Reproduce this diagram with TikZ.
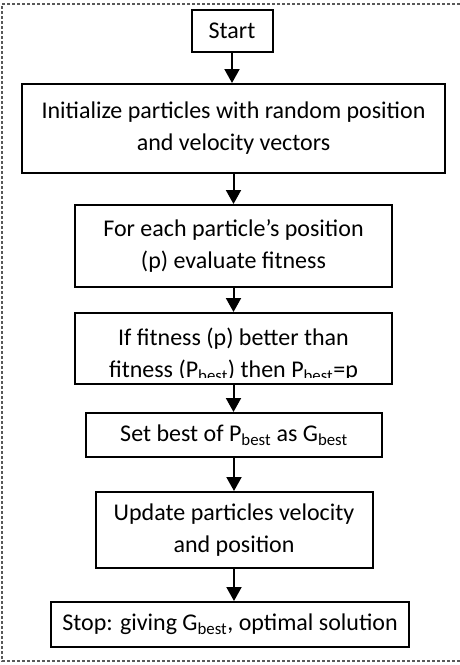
\documentclass[tikz,border=0pt]{standalone}
\usepackage{fontspec}
\setmainfont{Carlito}
\usetikzlibrary{arrows.meta}
\tikzset{
  stepbox/.style={draw,line width=2pt,inner sep=0pt,align=center},
  flow/.style={->,line width=2pt},
}
\begin{document}
\begin{tikzpicture}[x=1pt,y=-1pt,>={Triangle[width=15pt,length=14pt]},font=\fontsize{24}{32}\selectfont]
  \useasboundingbox (0,0) rectangle (459,665);
  % frame
  \draw[gray!70!black,line width=1.5pt,densely dashed] (465,4)--(2,4)--(2,661)--(465,661);
  % boxes
  \node[stepbox,minimum width=81pt,minimum height=42pt] (start) at (232,31) {Start};
  \node[stepbox,minimum width=423pt,minimum height=89pt] (init) at (233.5,128.5) {Initialize particles with random position\\and velocity vectors};
  \node[stepbox,minimum width=317pt,minimum height=82pt] (fit) at (233.5,246) {For each particle’s position\\(p) evaluate fitness};
  \node[stepbox,minimum width=317pt,minimum height=71pt] (ifb) at (233.5,348.5) {};
  \begin{scope}
    \clip (76,314) rectangle (391,377);
    \node[inner sep=0pt,align=center,anchor=north] (ifbtext) at (233.5,328) {If fitness (p) better than\\fitness (P\textsubscript{best}) then P\textsubscript{best}=p};
  \end{scope}
  \node[stepbox,minimum width=296pt,minimum height=44pt] (setb) at (234,435) {Set best of P\textsubscript{best} as G\textsubscript{best}};
  \node[stepbox,minimum width=277pt,minimum height=76pt] (upd) at (234,530) {Update particles velocity\\and position};
  \node[stepbox,minimum width=358pt,minimum height=45pt] (stop) at (230,624.5) {Stop: giving G\textsubscript{best}, optimal solution};
  % arrows
  \draw[flow] (start.south) -- (start.south |- init.north);
  \draw[flow] (init.south) -- (init.south |- fit.north);
  \draw[flow] (fit.south) -- (fit.south |- ifb.north);
  \draw[flow] (ifb.south) -- (ifb.south |- setb.north);
  \draw[flow] (setb.south) -- (setb.south |- upd.north);
  \draw[flow] (upd.south) -- (upd.south |- stop.north);
\end{tikzpicture}
\end{document}
